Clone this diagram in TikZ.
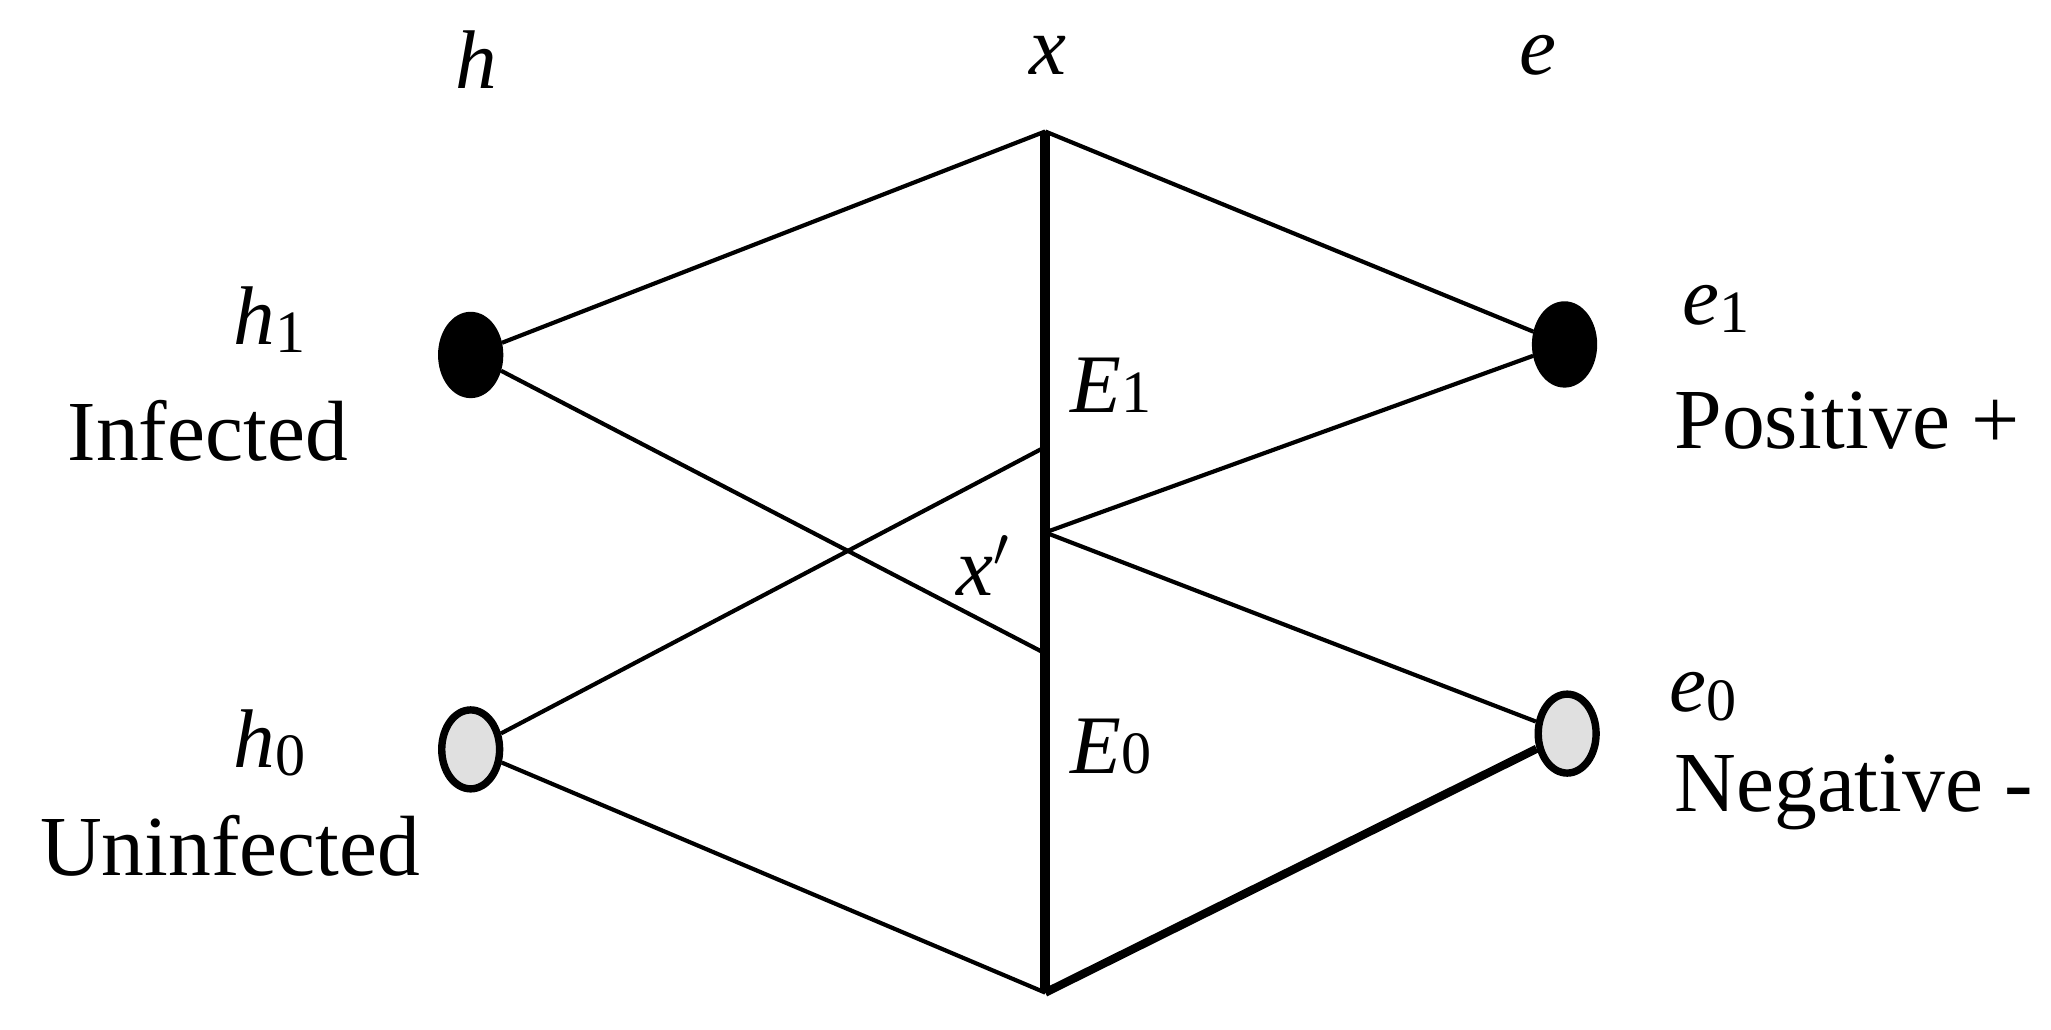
\documentclass[tikz,border=0pt]{standalone}
\usepackage{fontspec}
\usetikzlibrary{shapes.geometric}
\setmainfont{Liberation Serif}
\begin{document}
\begin{tikzpicture}[x=0.01cm,y=-0.01cm,
  dot/.style={ellipse,draw,line width=1.6pt,minimum width=0.44cm,minimum height=0.6cm,inner sep=0pt},
  lbl/.style={font=\fontsize{18.5}{22}\selectfont},
  var/.style={font=\fontsize{18}{21}\selectfont\itshape},
  ln/.style={line width=0.9pt}]
\useasboundingbox (0,0) rectangle (1560,783);
\node[dot,fill=black] (h1) at (358,270) {};
\node[dot,fill=black!12] (h0) at (358,570) {};
\node[dot,fill=black] (e1) at (1190,262) {};
\node[dot,fill=black!12] (e0) at (1192,558) {};
\coordinate (xt) at (795,100);
\coordinate (xb) at (795,755);
\coordinate (pa) at (795,340);
\coordinate (pb) at (795,497);
\coordinate (xp) at (795,405);
\draw[line width=2.2pt] (xt) -- (xb);
\draw[ln] (h1) -- (xt);
\draw[ln] (h1) -- (pb);
\draw[ln] (h0) -- (pa);
\draw[ln] (h0) -- (xb);
\draw[ln] (e1) -- (xt);
\draw[ln] (e1) -- (xp);
\draw[ln] (e0) -- (xp);
\draw[line width=1.8pt] (e0) -- (xb);
\node[var] (lh) at (362,45) {h};
\node[var] (lx) at (797,42) {x};
\node[var] (le) at (1170,42) {e};
\node[var] (lh1) at (205,243) {h\textup{\fontsize{13}{15}\selectfont\raisebox{-0.3ex}{1}}};
\node[lbl] (inf) at (158,328) {Infected};
\node[var] (lh0) at (205,565) {h\textup{\fontsize{13}{15}\selectfont\raisebox{-0.3ex}{0}}};
\node[lbl] (uninf) at (175,643) {Uninfected};
\node[var] (lE1) at (845,293) {E\textup{\fontsize{13}{15}\selectfont 1}};
\node[var] (lxp) at (748,430) {x$'$};
\node[var] (lE0) at (845,568) {E\textup{\fontsize{13}{15}\selectfont 0}};
\node[var] (le1) at (1305,235) {e\textup{\fontsize{13}{15}\selectfont\raisebox{-0.3ex}{1}}};
\node[lbl] (pos) at (1405,320) {Positive +};
\node[var] (le0) at (1295,530) {e\textup{\fontsize{13}{15}\selectfont\raisebox{-0.3ex}{0}}};
\node[lbl] (neg) at (1410,603) {Negative -};
\end{tikzpicture}
\end{document}
